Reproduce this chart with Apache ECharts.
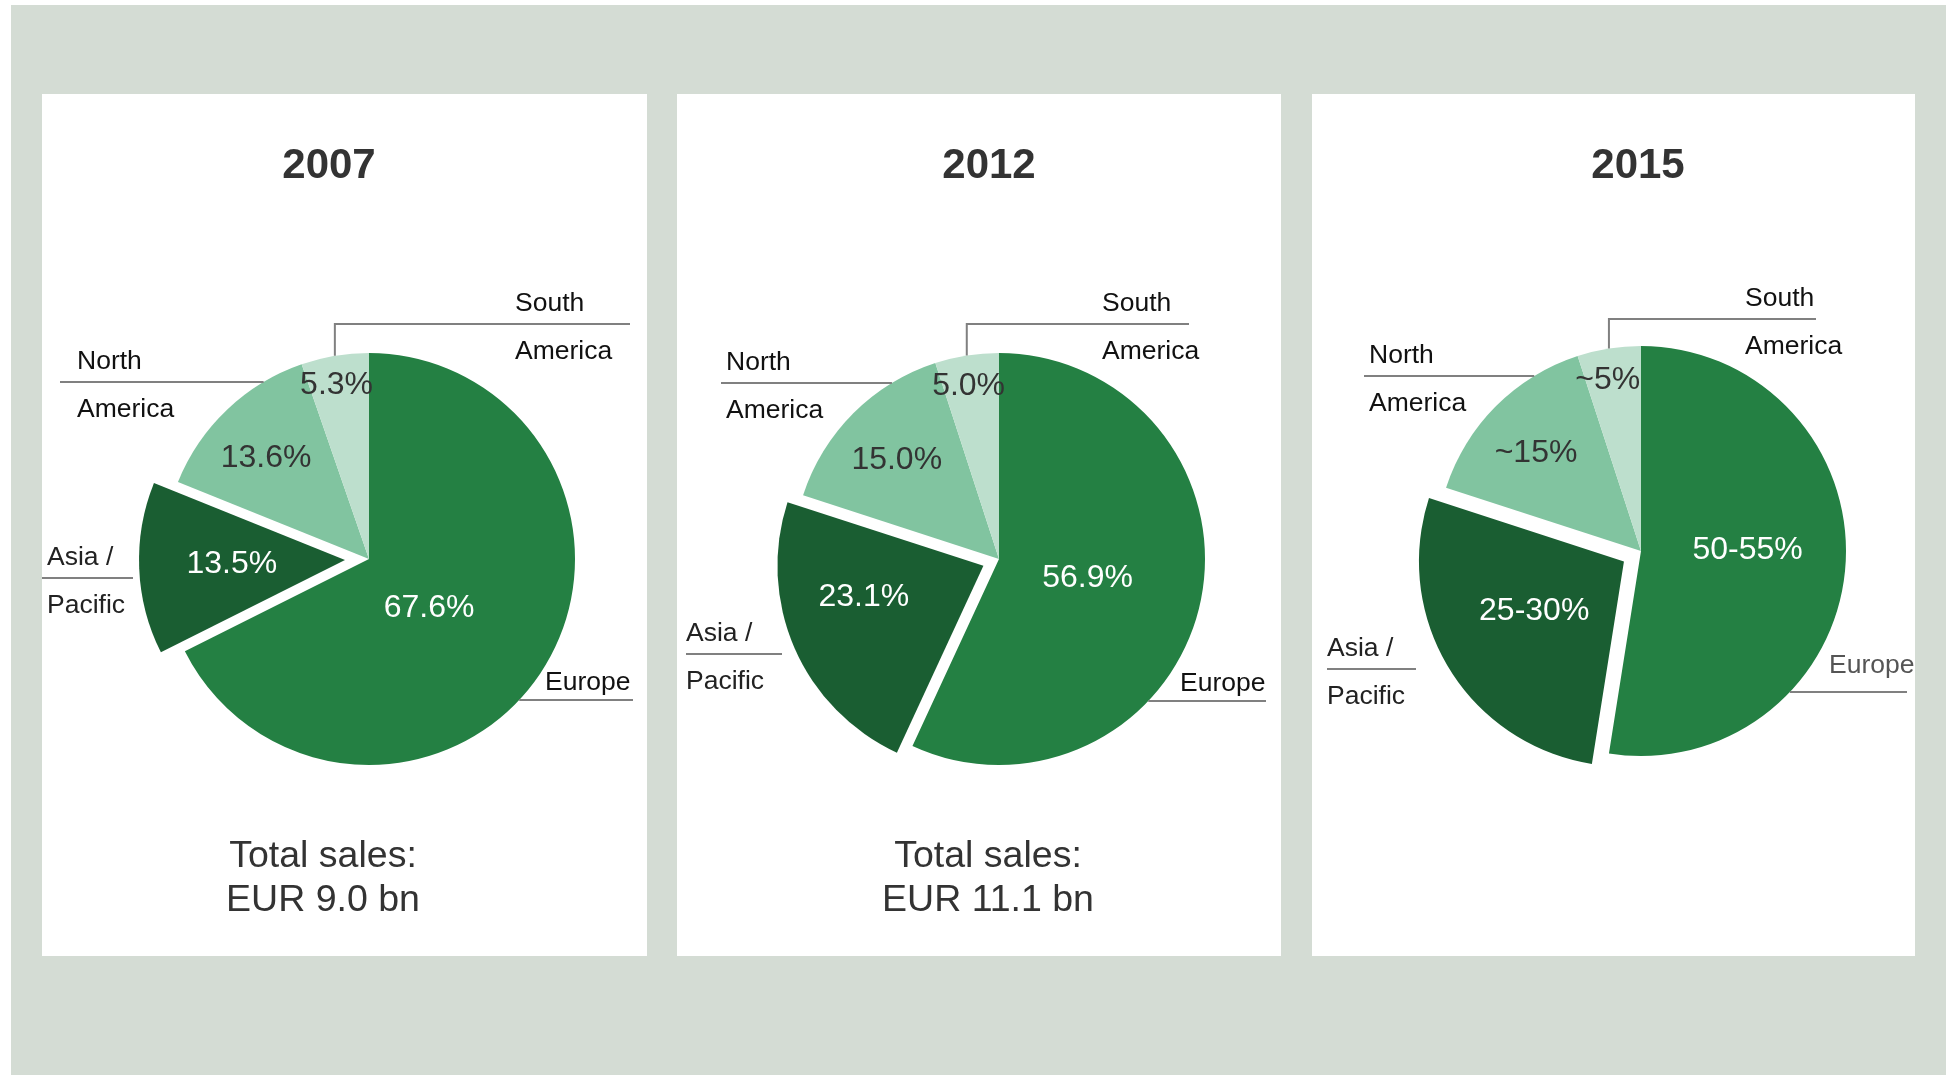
<!DOCTYPE html>
<html>
<head>
<meta charset="utf-8">
<title>Sales by region</title>
<script src="https://cdn.jsdelivr.net/npm/echarts@6/dist/echarts.min.js"></script>
<style>
  html, body { margin: 0; padding: 0; background: #ffffff; }
  #chart { width: 1946px; height: 1075px; }
</style>
</head>
<body>
<div id="chart"></div>
<script>
// ---- data -------------------------------------------------------------
const regions = ['Europe', 'Asia / Pacific', 'North America', 'South America'];
const regionLines = [['Europe', ''], ['Asia /', 'Pacific'], ['North', 'America'], ['South', 'America']];
const years = ['2007', '2012', '2015'];

const share2007 = [67.6, 13.5, 13.6, 5.3];
const share2012 = [56.9, 23.1, 15.0, 5.0];
// 2015 outlook: ranges drawn at their midpoints
const share2015 = [52.5, 27.5, 15, 5];

const text2007 = ['67.6%', '13.5%', '13.6%', '5.3%'];
const text2012 = ['56.9%', '23.1%', '15.0%', '5.0%'];
const text2015 = ['50-55%', '25-30%', '~15%', '~5%'];

const totalSales = ['EUR 9.0 bn', 'EUR 11.1 bn', null];

// ---- styling / layout ---------------------------------------------------
const FONT = '"Liberation Sans", Arial, Helvetica, sans-serif';
const SLICE_COLORS = ['#248043', '#1a5e32', '#81c4a0', '#bddfcd'];
const VALUE_COLORS = ['#ffffff', '#ffffff', '#333333', '#333333'];
const NAME_COLORS = ['#111111', '#222222', '#111111', '#111111'];
const RULE_COLOR = '#808080';
const EXPLODED = 1; // Asia / Pacific is pulled out

const shares = [share2007, share2012, share2015];
const valueTexts = [text2007, text2012, text2015];

const pieGeom = [
  { cx: 369,  cy: 559, r: 206, explode: 24, titleX: 329,  totalX: 323 },
  { cx: 999,  cy: 559, r: 206, explode: 17, titleX: 989,  totalX: 988 },
  { cx: 1641, cy: 551, r: 205, explode: 20, titleX: 1638, totalX: 1640 }
];
const panels = [[42, 94, 605, 862], [677, 94, 604, 862], [1312, 94, 603, 862]];

// value label placement: [fraction of radius, angular nudge in degrees]
const valueSpots = [
  [[0.376, 7.5], [0.55, 0], [0.70, -2], [0.86, -1]],
  [[0.44, 0], [0.60, 9], [0.69, -1], [0.85, -1]],
  [[0.52, -5], [0.50, 2.6], [0.70, -2], [0.85, -2]]
];
// name label placement relative to pie centre:
// tx = text left, ly = rule y, outer = far end of rule, inner = near end (null: meets the pie edge),
// lift = extra space between text and rule
const nameSpots = [
  [{ tx: 176, ly: 141, outer: 264 }, { tx: -322, ly: 19, outer: -327, inner: -236 },
   { tx: -292, ly: -177, outer: -309 }, { tx: 146, ly: -235, outer: 261, elbow: true }],
  [{ tx: 181, ly: 142, outer: 267 }, { tx: -313, ly: 95, outer: -313, inner: -217 },
   { tx: -273, ly: -176, outer: -278 }, { tx: 103, ly: -235, outer: 190, elbow: true }],
  [{ tx: 188, ly: 141, outer: 266, lift: 9 }, { tx: -314, ly: 118, outer: -314, inner: -225 },
   { tx: -272, ly: -175, outer: -277 }, { tx: 104, ly: -232, outer: 175, elbow: true }]
];
const UPPER_LH = 41, LOWER_LH = 55, SINGLE_LH = 34;

const RAD = Math.PI / 180;

// mid angle of each slice, degrees clockwise from 12 o'clock
function midAngles(values) {
  const total = values.reduce((a, b) => a + b, 0);
  let acc = 0;
  return values.map(v => {
    const m = (acc + v / 2) / total * 360;
    acc += v;
    return m;
  });
}

function basePie(g, z) {
  return {
    type: 'pie',
    center: [g.cx, g.cy],
    radius: g.r,
    startAngle: 90,
    clockwise: true,
    avoidLabelOverlap: false,
    animation: false,
    z: z
  };
}

const series = [];
shares.forEach((values, p) => {
  const g = pieGeom[p];
  const mids = midAngles(values);

  // visible slices, Asia / Pacific pulled out
  series.push(Object.assign(basePie(g, 2), {
    selectedMode: 'single',
    selectedOffset: g.explode,
    emphasis: { disabled: true },
    itemStyle: { borderWidth: 0 },
    label: { show: false },
    labelLine: { show: false },
    data: values.map((v, i) => ({
      name: regions[i],
      value: v,
      selected: i === EXPLODED,
      itemStyle: { color: SLICE_COLORS[i] }
    }))
  }));

  // value labels inside the slices
  series.push(Object.assign(basePie(g, 4), {
    silent: true,
    itemStyle: { color: 'rgba(0,0,0,0)', borderWidth: 0 },
    label: {
      show: true,
      position: 'inside',
      fontFamily: FONT,
      fontSize: 32,
      formatter: prm => valueTexts[p][prm.dataIndex]
    },
    labelLine: { show: false },
    labelLayout: prm => {
      const i = prm.dataIndex;
      const th = mids[i];
      let cx = g.cx, cy = g.cy;
      if (i === EXPLODED) {
        cx += g.explode * Math.sin(th * RAD);
        cy -= g.explode * Math.cos(th * RAD);
      }
      const [f, da] = valueSpots[p][i];
      const a = (th + da) * RAD;
      return {
        x: cx + f * g.r * Math.sin(a),
        y: cy - f * g.r * Math.cos(a),
        align: 'center',
        verticalAlign: 'middle'
      };
    },
    data: values.map((v, i) => ({
      name: regions[i],
      value: v,
      label: { color: VALUE_COLORS[i] }
    }))
  }));

  // region names with rules
  series.push(Object.assign(basePie(g, 3), {
    silent: true,
    itemStyle: { color: 'rgba(0,0,0,0)', borderWidth: 0 },
    label: {
      show: true,
      position: 'outside',
      formatter: prm => {
        const [top, bottom] = regionLines[prm.dataIndex];
        return bottom ? `{a|${top}}\n{b|${bottom}}` : `{e|${top}}`;
      },
      rich: {
        a: { fontFamily: FONT, fontSize: 26.5, lineHeight: UPPER_LH },
        b: { fontFamily: FONT, fontSize: 26.5, lineHeight: LOWER_LH },
        e: { fontFamily: FONT, fontSize: 26.5, lineHeight: SINGLE_LH }
      }
    },
    labelLine: {
      show: true,
      length: 10,
      length2: 10,
      smooth: false,
      lineStyle: { color: RULE_COLOR, width: 2 }
    },
    labelLayout: prm => {
      const i = prm.dataIndex;
      const s = nameSpots[p][i];
      const lineY = g.cy + s.ly;
      const outerX = g.cx + s.outer;
      const topOff = (regionLines[i][1] ? UPPER_LH : SINGLE_LH) + (s.lift || 0);
      let pts;
      if (s.elbow) {
        const th = mids[i] * RAD;
        const ex = g.cx + g.r * Math.sin(th);
        const ey = g.cy - g.r * Math.cos(th);
        pts = [[ex, ey], [ex, lineY], [outerX, lineY]];
      } else {
        let innerX;
        if (s.inner != null) {
          innerX = g.cx + s.inner;
        } else {
          const half = Math.sqrt(Math.max(0, g.r * g.r - s.ly * s.ly));
          innerX = g.cx + (s.tx < 0 ? -half : half);
        }
        pts = [[innerX, lineY], [innerX, lineY], [outerX, lineY]];
      }
      return {
        x: g.cx + s.tx,
        y: lineY - topOff,
        align: 'left',
        verticalAlign: 'top',
        labelLinePoints: pts
      };
    },
    data: values.map((v, i) => ({
      name: regions[i],
      value: v,
      label: {
        rich: {
          a: { color: NAME_COLORS[i] },
          b: { color: NAME_COLORS[i] },
          e: { color: (p === 2 ? '#555555' : NAME_COLORS[i]) }
        }
      }
    }))
  }));
});

// ---- panels, titles and totals ------------------------------------------
const graphics = [
  { type: 'rect', z: -10, silent: true, shape: { x: 11, y: 5, width: 1935, height: 1070 }, style: { fill: '#d4dcd4' } }
];
panels.forEach(([x, y, w, h]) => {
  graphics.push({ type: 'rect', z: -9, silent: true, shape: { x, y, width: w, height: h }, style: { fill: '#ffffff' } });
});
years.forEach((yr, p) => {
  graphics.push({
    type: 'text', z: 5, silent: true, x: pieGeom[p].titleX, y: 166,
    style: {
      text: yr, font: `bold 42px ${FONT}`, fill: '#333333',
      align: 'center', verticalAlign: 'middle', textAlign: 'center', textVerticalAlign: 'middle'
    }
  });
  if (totalSales[p]) {
    graphics.push({
      type: 'text', z: 5, silent: true, x: pieGeom[p].totalX, y: 879,
      style: {
        text: 'Total sales:\n' + totalSales[p], font: `37.5px ${FONT}`, fill: '#333333', lineHeight: 44,
        align: 'center', verticalAlign: 'middle', textAlign: 'center', textVerticalAlign: 'middle'
      }
    });
  }
});

const chart = echarts.init(document.getElementById('chart'), null, { renderer: 'canvas' });
chart.setOption({
  backgroundColor: '#ffffff',
  animation: false,
  graphic: { elements: graphics },
  series
});
</script>
</body>
</html>
